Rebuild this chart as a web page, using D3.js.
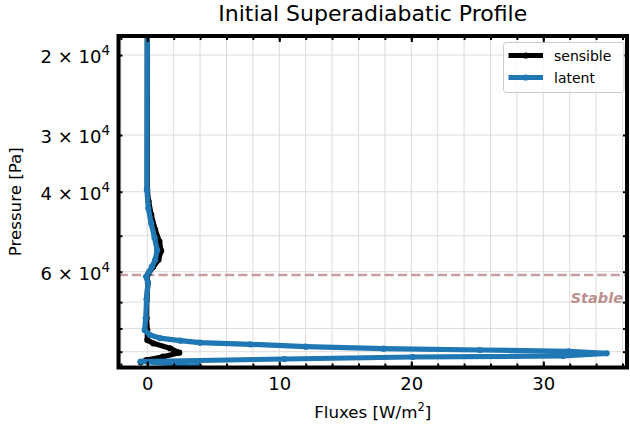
<!DOCTYPE html>
<html>
<head>
<meta charset="utf-8">
<script src="https://cdn.jsdelivr.net/npm/d3@7"></script>
<style>
  html, body { margin: 0; padding: 0; background: #fff; }
  svg { display: block; font-family: "DejaVu Sans", sans-serif; }
</style>
</head>
<body>
<svg id="chart" width="630" height="431"></svg>
<script>
// ---------------- data ----------------
const title = "Initial Superadiabatic Profile";
const xLabel = "Fluxes [W/m";
const yLabel = "Pressure [Pa]";
const seriesNames = ["sensible", "latent"];

// sensible heat flux profile (pressure in Pa, flux in W/m^2)
const sensiblePressure = [18000, 39600, 42000, 45000, 48500, 51500, 54000, 56500, 58500, 60500, 61500, 63500, 69000, 76000, 80660, 84860, 86280, 88460, 90460, 92320, 93880, 95000];
const sensibleFlux     = [0.0,   0.0,   0.1,   0.3,   0.6,   0.92,  1.05,  0.85,  0.45,  0.1,   -0.05, 0.05,  -0.03, -0.05, 0.0,   0.0,   0.45,  1.72,  2.42,  1.2,   -0.05, -0.5];

// latent heat flux profile
const latentPressure = [18000, 39600, 43500, 47000, 50500, 53800, 56500, 58500, 60000, 61500, 63500, 69000, 76000, 80660, 82700, 84000, 85100, 86000, 86700, 87740, 88640, 89240, 89820, 90740, 92000, 92460, 93400, 94600, 96500];
const latentFlux     = [0.0,   -0.03, 0.08,  0.3,   0.55,  0.75,  0.6,   0.35,  0.15,  -0.08, 0.05,  -0.05, -0.12, -0.2,  0.2,   0.95,  2.5,   4.0,   7.8,   12.0,  17.9,  25.2,  31.9,  34.8,  31.5,  20.1,  10.4,  -0.5,  3.8];

const stablePressure = 61000;
const xTicksMajor = [0, 10, 20, 30];
const yTickValues = [20000, 30000, 40000, 50000, 60000, 70000, 80000, 90000];
const yTickLabels = {20000: "2", 30000: "3", 40000: "4", 60000: "6"};

// ---------------- layout ----------------
const svg = d3.select("#chart");
const L = 118.5, R = 627, T = 36, B = 367.5;
const x = d3.scaleLinear().domain([-2.18, 36.34]).range([L, R]);
const y = d3.scaleLog().domain([18160, 97520]).range([T, B]);
const xMinor = d3.range(-2, 37, 2);

svg.append("defs").append("clipPath").attr("id", "clip")
  .append("rect").attr("x", L).attr("y", T).attr("width", R - L).attr("height", B - T);

// grid
const grid = svg.append("g").attr("stroke", "#dcdcdc").attr("stroke-width", 1);
grid.selectAll("line.gx").data(xMinor.filter(v => x(v) > L + 2 && x(v) < R - 2)).join("line")
  .attr("x1", d => x(d)).attr("x2", d => x(d)).attr("y1", T).attr("y2", B);
grid.selectAll("line.gy").data(yTickValues).join("line")
  .attr("x1", L).attr("x2", R).attr("y1", d => y(d)).attr("y2", d => y(d));

// stable line
svg.append("line")
  .attr("x1", L).attr("x2", R).attr("y1", y(stablePressure)).attr("y2", y(stablePressure))
  .attr("stroke", "#bc8f8f").attr("stroke-opacity", 0.85)
  .attr("stroke-width", 2.6).attr("stroke-dasharray", "9.3 4");
svg.append("text")
  .attr("x", 623).attr("y", 303).attr("text-anchor", "end")
  .attr("font-size", 14.5).attr("font-weight", "bold").attr("font-style", "italic")
  .attr("fill", "#bc8f8f")
  .text("Stable");

// data lines
const plot = svg.append("g").attr("clip-path", "url(#clip)");
const series = [
  {name: seriesNames[0], color: "#000000", data: sensiblePressure.map((p, i) => [sensibleFlux[i], p])},
  {name: seriesNames[1], color: "#1f77b4", data: latentPressure.map((p, i) => [latentFlux[i], p])}
];
const line = d3.line().x(d => x(d[0])).y(d => y(d[1]));
series.forEach(s => {
  plot.append("path").datum(s.data)
    .attr("d", line).attr("fill", "none").attr("stroke", s.color)
    .attr("stroke-width", 5.2).attr("stroke-linejoin", "round").attr("stroke-linecap", "round");
  plot.selectAll(null).data(s.data).join("circle")
    .attr("cx", d => x(d[0])).attr("cy", d => y(d[1])).attr("r", 3.1).attr("fill", s.color);
});

// axes (ticks inward on all sides)
const tickStyle = g => {
  g.select(".domain").remove();
  g.selectAll(".tick line").attr("stroke", "#000").attr("stroke-width", 2);
};
svg.append("g").attr("transform", `translate(0,${B})`)
  .call(d3.axisBottom(x).tickValues(xMinor.filter(v => v > -2.18)).tickSize(-4).tickFormat(""))
  .call(tickStyle);
svg.append("g").attr("transform", `translate(0,${B})`)
  .call(d3.axisBottom(x).tickValues(xTicksMajor).tickSize(-6).tickPadding(9.5).tickFormat(d3.format("d")))
  .call(tickStyle)
  .call(g => g.selectAll("text").attr("font-size", 18).attr("fill", "#000").attr("font-family", "DejaVu Sans"));
svg.append("g").attr("transform", `translate(0,${T})`)
  .call(d3.axisTop(x).tickValues(xMinor.filter(v => v > -2.18)).tickSize(-4).tickFormat(""))
  .call(tickStyle);
svg.append("g").attr("transform", `translate(0,${T})`)
  .call(d3.axisTop(x).tickValues(xTicksMajor).tickSize(-6).tickFormat(""))
  .call(tickStyle);
svg.append("g").attr("transform", `translate(${L},0)`)
  .call(d3.axisLeft(y).tickValues(yTickValues).tickSize(-4).tickFormat(""))
  .call(tickStyle);
svg.append("g").attr("transform", `translate(${R},0)`)
  .call(d3.axisRight(y).tickValues(yTickValues).tickSize(-4).tickFormat(""))
  .call(tickStyle);

// y tick labels with superscripts
const ylab = svg.append("g").attr("font-size", 18).attr("fill", "#000").attr("text-anchor", "end");
Object.keys(yTickLabels).forEach(k => {
  const t = ylab.append("text").attr("x", 110).attr("y", y(+k) + 8);
  t.append("tspan").text(yTickLabels[k] + " \u00d7 10");
  t.append("tspan").attr("font-size", 13.5).attr("dy", -8).text("4");
});

// spines
svg.append("rect").attr("x", L).attr("y", T).attr("width", R - L).attr("height", B - T)
  .attr("fill", "none").attr("stroke", "#000").attr("stroke-width", 4);

// title and axis labels
svg.append("text").attr("x", (L + R) / 2).attr("y", 21).attr("text-anchor", "middle")
  .attr("font-size", 22).attr("fill", "#000").text(title);
const xl = svg.append("text").attr("x", (L + R) / 2).attr("y", 418).attr("text-anchor", "middle")
  .attr("font-size", 16.7).attr("fill", "#000");
xl.append("tspan").text(xLabel);
xl.append("tspan").attr("font-size", 11.5).attr("dy", -7).text("2");
xl.append("tspan").attr("dy", 7).text("]");
svg.append("text").attr("transform", `translate(21,${(T + B) / 2}) rotate(-90)`)
  .attr("text-anchor", "middle").attr("font-size", 16.7).attr("fill", "#000").text(yLabel);

// legend
const lg = svg.append("g");
lg.append("rect").attr("x", 503.5).attr("y", 42.5).attr("width", 120.5).attr("height", 50)
  .attr("rx", 3).attr("fill", "#fff").attr("fill-opacity", 0.8)
  .attr("stroke", "#cccccc").attr("stroke-width", 1);
series.forEach((s, i) => {
  const yy = 55.5 + i * 22;
  lg.append("line").attr("x1", 508.5).attr("x2", 543).attr("y1", yy).attr("y2", yy)
    .attr("stroke", s.color).attr("stroke-width", 5);
  lg.append("circle").attr("cx", 525.7).attr("cy", yy).attr("r", 3.1).attr("fill", s.color);
  lg.append("text").attr("x", 554).attr("y", yy + 5).attr("font-size", 14).attr("fill", "#000").text(s.name);
});
</script>
</body>
</html>
